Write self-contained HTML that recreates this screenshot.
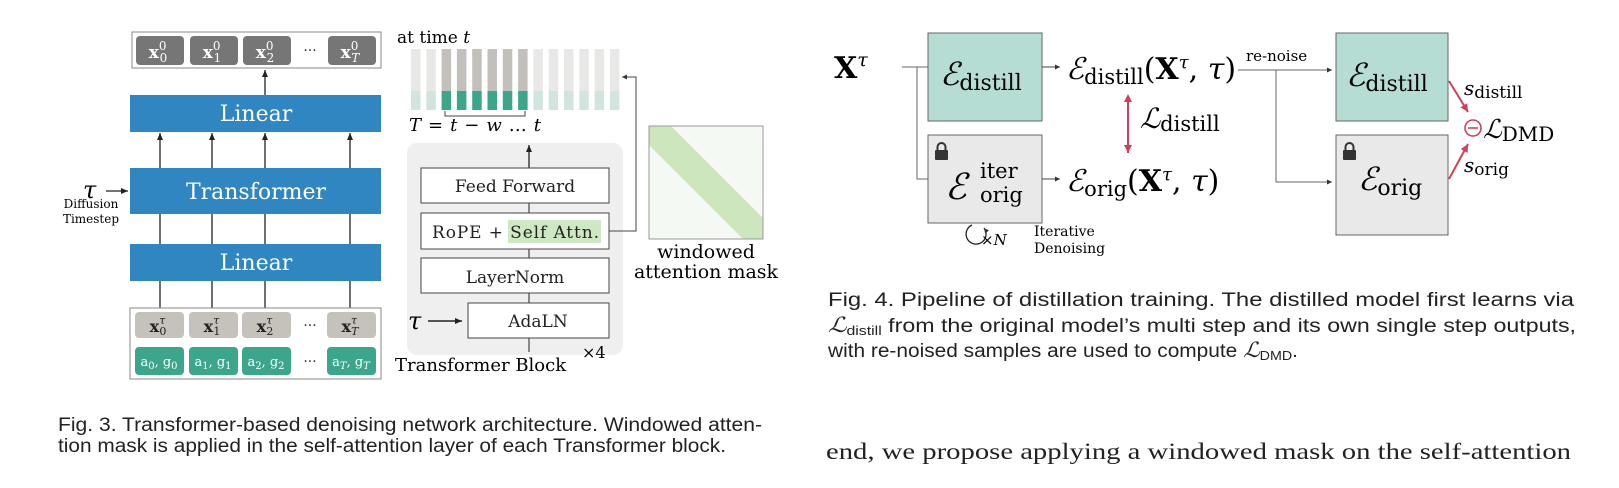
<!DOCTYPE html>
<html><head><meta charset="utf-8"><style>
html,body{margin:0;padding:0;background:#fff}
svg{display:block}
.s{font-family:"DejaVu Serif","Liberation Serif",serif}
.t{font-family:"Liberation Serif",serif}
.c{font-family:"Liberation Sans",sans-serif}
</style></head><body>
<svg width="1619" height="488" viewBox="0 0 1619 488" xmlns="http://www.w3.org/2000/svg">
<defs>
<marker id="ah" markerWidth="8" markerHeight="8" refX="7" refY="4" orient="auto" markerUnits="userSpaceOnUse"><path d="M0,1 L7,4 L0,7 Z" fill="#222"/></marker>
<marker id="ahs" markerWidth="6" markerHeight="6" refX="5" refY="3" orient="auto" markerUnits="userSpaceOnUse"><path d="M0,0.5 L5,3 L0,5.5 Z" fill="#333"/></marker>
<marker id="ar" markerWidth="10" markerHeight="10" refX="8" refY="5" orient="auto" markerUnits="userSpaceOnUse"><path d="M0,1 L8,5 L0,9 Z" fill="#d0405a"/></marker>
<marker id="ars" markerWidth="10" markerHeight="10" refX="2" refY="5" orient="auto" markerUnits="userSpaceOnUse"><path d="M8,1 L0,5 L8,9 Z" fill="#d0405a"/></marker>
</defs>

<!-- LEFT DIAGRAM -->
<rect x="132" y="32" width="249" height="36" fill="#fff" stroke="#888" stroke-width="1"/>
<g fill="#767676">
<rect x="136" y="36" width="48" height="29" rx="4"/>
<rect x="190" y="36" width="48" height="29" rx="4"/>
<rect x="243" y="36" width="48" height="29" rx="4"/>
<rect x="328" y="36" width="48" height="29" rx="4"/>
</g>
<g class="s" fill="#fff" font-size="17" font-weight="bold" text-anchor="middle">
<text x="158" y="58">x<tspan font-size="12" font-weight="normal" dy="-8">0</tspan><tspan font-size="12" font-weight="normal" dx="-7" dy="12">0</tspan></text>
<text x="212" y="58">x<tspan font-size="12" font-weight="normal" dy="-8">0</tspan><tspan font-size="12" font-weight="normal" dx="-7" dy="12">1</tspan></text>
<text x="265" y="58">x<tspan font-size="12" font-weight="normal" dy="-8">0</tspan><tspan font-size="12" font-weight="normal" dx="-7" dy="12">2</tspan></text>
<text x="350" y="58">x<tspan font-size="12" font-weight="normal" dy="-8">0</tspan><tspan font-size="12" font-weight="normal" font-style="italic" dx="-7" dy="12">T</tspan></text>
</g>
<text x="310" y="55" class="s" font-size="14" text-anchor="middle" fill="#333">···</text>

<g fill="#2f86c1">
<rect x="130" y="95" width="251" height="37"/>
<rect x="130" y="168" width="251" height="46"/>
<rect x="130" y="244" width="251" height="37"/>
</g>
<g class="s" fill="#fff" text-anchor="middle">
<text x="256" y="121" font-size="22">Linear</text>
<text x="256" y="199" font-size="22">Transformer</text>
<text x="256" y="270" font-size="22">Linear</text>
</g>
<g stroke="#222" stroke-width="1.3">
<line x1="265" y1="95" x2="265" y2="70" marker-end="url(#ah)"/>
<line x1="160" y1="168" x2="160" y2="133" marker-end="url(#ah)"/>
<line x1="212" y1="168" x2="212" y2="133" marker-end="url(#ah)"/>
<line x1="265" y1="168" x2="265" y2="133" marker-end="url(#ah)"/>
<line x1="350" y1="168" x2="350" y2="133" marker-end="url(#ah)"/>
<line x1="160" y1="244" x2="160" y2="214"/><line x1="212" y1="244" x2="212" y2="214"/><line x1="265" y1="244" x2="265" y2="214"/><line x1="350" y1="244" x2="350" y2="214"/>
<line x1="160" y1="308" x2="160" y2="281"/><line x1="212" y1="308" x2="212" y2="281"/><line x1="265" y1="308" x2="265" y2="281"/><line x1="350" y1="308" x2="350" y2="281"/>
<line x1="106" y1="191" x2="128" y2="191" marker-end="url(#ah)"/>
</g>
<text x="83" y="198" class="s" font-size="24" font-style="italic">τ</text>
<text x="91" y="208" class="s" font-size="12" text-anchor="middle">Diffusion</text>
<text x="91" y="223" class="s" font-size="12" text-anchor="middle">Timestep</text>

<rect x="130" y="308" width="251" height="71" fill="#fff" stroke="#888" stroke-width="1"/>
<g fill="#c5c1bb">
<rect x="135" y="312" width="49" height="26" rx="4"/>
<rect x="189" y="312" width="49" height="26" rx="4"/>
<rect x="242" y="312" width="49" height="26" rx="4"/>
<rect x="327" y="312" width="49" height="26" rx="4"/>
</g>
<g fill="#3ca68c">
<rect x="135" y="347" width="49" height="28" rx="4"/>
<rect x="189" y="347" width="49" height="28" rx="4"/>
<rect x="242" y="347" width="49" height="28" rx="4"/>
<rect x="327" y="347" width="49" height="28" rx="4"/>
</g>
<g class="s" fill="#222" font-size="16" font-weight="bold" text-anchor="middle">
<text x="158" y="332">x<tspan font-size="11" font-weight="normal" font-style="italic" dy="-8">τ</tspan><tspan font-size="11" font-weight="normal" dx="-6" dy="11">0</tspan></text>
<text x="212" y="332">x<tspan font-size="11" font-weight="normal" font-style="italic" dy="-8">τ</tspan><tspan font-size="11" font-weight="normal" dx="-6" dy="11">1</tspan></text>
<text x="265" y="332">x<tspan font-size="11" font-weight="normal" font-style="italic" dy="-8">τ</tspan><tspan font-size="11" font-weight="normal" dx="-6" dy="11">2</tspan></text>
<text x="350" y="332">x<tspan font-size="11" font-weight="normal" font-style="italic" dy="-8">τ</tspan><tspan font-size="11" font-weight="normal" font-style="italic" dx="-6" dy="11">T</tspan></text>
</g>
<g class="s" fill="#fff" font-size="13" text-anchor="middle">
<text x="159" y="366">a<tspan font-size="10" dy="3">0</tspan><tspan dy="-3">, g</tspan><tspan font-size="10" dy="3">0</tspan></text>
<text x="213" y="366">a<tspan font-size="10" dy="3">1</tspan><tspan dy="-3">, g</tspan><tspan font-size="10" dy="3">1</tspan></text>
<text x="266" y="366">a<tspan font-size="10" dy="3">2</tspan><tspan dy="-3">, g</tspan><tspan font-size="10" dy="3">2</tspan></text>
<text x="351" y="366">a<tspan font-size="10" dy="3" font-style="italic">T</tspan><tspan dy="-3">, g</tspan><tspan font-size="10" dy="3" font-style="italic">T</tspan></text>
</g>
<text x="310" y="330" class="s" font-size="14" text-anchor="middle" fill="#333">···</text>
<text x="310" y="366" class="s" font-size="14" text-anchor="middle" fill="#333">···</text>

<!-- MIDDLE -->
<text x="397" y="43" class="s" font-size="17">at time <tspan font-style="italic">t</tspan></text>
<g>
<rect x="411" y="49" width="9.5" height="42" fill="#e8e8e6"/><rect x="411" y="91" width="9.5" height="19" fill="#cfe5de"/>
<rect x="426.3" y="49" width="9.5" height="42" fill="#e8e8e6"/><rect x="426.3" y="91" width="9.5" height="19" fill="#cfe5de"/>
<rect x="441.6" y="49" width="9.5" height="42" fill="#c3bfba"/><rect x="441.6" y="91" width="9.5" height="19" fill="#3aa68a"/>
<rect x="456.9" y="49" width="9.5" height="42" fill="#c3bfba"/><rect x="456.9" y="91" width="9.5" height="19" fill="#3aa68a"/>
<rect x="472.2" y="49" width="9.5" height="42" fill="#c3bfba"/><rect x="472.2" y="91" width="9.5" height="19" fill="#3aa68a"/>
<rect x="487.5" y="49" width="9.5" height="42" fill="#c3bfba"/><rect x="487.5" y="91" width="9.5" height="19" fill="#3aa68a"/>
<rect x="502.8" y="49" width="9.5" height="42" fill="#c3bfba"/><rect x="502.8" y="91" width="9.5" height="19" fill="#3aa68a"/>
<rect x="518.1" y="49" width="9.5" height="42" fill="#c3bfba"/><rect x="518.1" y="91" width="9.5" height="19" fill="#3aa68a"/>
<rect x="533.4" y="49" width="9.5" height="42" fill="#e8e8e6"/><rect x="533.4" y="91" width="9.5" height="19" fill="#cfe5de"/>
<rect x="548.7" y="49" width="9.5" height="42" fill="#e8e8e6"/><rect x="548.7" y="91" width="9.5" height="19" fill="#cfe5de"/>
<rect x="564" y="49" width="9.5" height="42" fill="#e8e8e6"/><rect x="564" y="91" width="9.5" height="19" fill="#cfe5de"/>
<rect x="579.3" y="49" width="9.5" height="42" fill="#e8e8e6"/><rect x="579.3" y="91" width="9.5" height="19" fill="#cfe5de"/>
<rect x="594.6" y="49" width="9.5" height="42" fill="#e8e8e6"/><rect x="594.6" y="91" width="9.5" height="19" fill="#cfe5de"/>
<rect x="609.9" y="49" width="9.5" height="42" fill="#e8e8e6"/><rect x="609.9" y="91" width="9.5" height="19" fill="#cfe5de"/>
</g>
<path d="M445,111 V116 H525 V111" fill="none" stroke="#444" stroke-width="1"/>
<text x="409" y="131" class="s" font-size="18" font-style="italic" textLength="132">T <tspan font-style="normal">=</tspan> t <tspan font-style="normal">−</tspan> w <tspan font-style="normal">…</tspan> t</text>

<rect x="407" y="143" width="216" height="212" rx="10" fill="#efefef"/>
<line x1="529" y1="168" x2="529" y2="145" stroke="#222" stroke-width="1.3" marker-end="url(#ah)"/>
<line x1="529" y1="203" x2="529" y2="213" stroke="#222"/><line x1="529" y1="249" x2="529" y2="258" stroke="#222"/><line x1="529" y1="293" x2="529" y2="303" stroke="#222"/><line x1="529" y1="338" x2="529" y2="352" stroke="#222"/>
<g fill="#fff" stroke="#444" stroke-width="1">
<rect x="421" y="168" width="188" height="35"/>
<rect x="421" y="213" width="188" height="36"/>
<rect x="421" y="258" width="188" height="35"/>
<rect x="468" y="303" width="141" height="35"/>
</g>
<rect x="508" y="220" width="93" height="23" fill="#cfe8c4"/>
<g class="s" font-size="17" fill="#222">
<text x="515" y="192" text-anchor="middle">Feed Forward</text>
<text x="432" y="238" textLength="167">RoPE + Self Attn.</text>
<text x="515" y="283" text-anchor="middle">LayerNorm</text>
<text x="538" y="327" text-anchor="middle">AdaLN</text>
</g>
<text x="408" y="329" class="s" font-size="24" font-style="italic">τ</text>
<line x1="428" y1="321" x2="462" y2="321" stroke="#222" stroke-width="1.5" marker-end="url(#ah)"/>
<text x="395" y="371" class="s" font-size="18">Transformer Block</text>
<text x="582" y="358" class="s" font-size="16">×4</text>
<polyline points="609,231 636,231 636,77 622,77" fill="none" stroke="#444" stroke-width="1" marker-end="url(#ahs)"/>

<rect x="649" y="126" width="114" height="113" fill="#f5f9f3" stroke="#999" stroke-width="1"/>
<polygon points="649,126 671,126 763,218 763,239 743,239 649,145" fill="#cde6bd"/>
<rect x="649" y="126" width="114" height="113" fill="none" stroke="#999" stroke-width="1"/>
<text x="706" y="258" class="s" font-size="19" text-anchor="middle">windowed</text>
<text x="706" y="278" class="s" font-size="19" text-anchor="middle">attention mask</text>

<text x="58" y="431" class="c" font-size="19" fill="#222" textLength="704" lengthAdjust="spacingAndGlyphs">Fig. 3.  Transformer-based denoising network architecture. Windowed atten-</text>
<text x="58" y="452" class="c" font-size="19" fill="#222" textLength="668" lengthAdjust="spacingAndGlyphs">tion mask is applied in the self-attention layer of each Transformer block.</text>

<!-- RIGHT DIAGRAM -->
<text x="834" y="78" class="s" font-size="30" font-weight="bold">X<tspan font-size="19" font-weight="normal" font-style="italic" dy="-12">τ</tspan></text>
<polyline points="902,67 928,67" stroke="#666" fill="none"/>
<polyline points="917,67 917,179 928,179" stroke="#666" fill="none"/>
<rect x="928" y="33" width="114" height="88" fill="#b5ddd3" stroke="#666" stroke-width="1"/>
<rect x="928" y="135" width="114" height="88" fill="#e9e9e9" stroke="#666" stroke-width="1"/>
<text x="940" y="85" class="s" font-size="32" font-style="italic">ℰ<tspan font-size="22" font-style="normal" dy="5">distill</tspan></text>
<text x="945" y="199" class="s" font-size="36" font-style="italic">ℰ</text>
<text x="980" y="178" class="s" font-size="21">iter</text>
<text x="980" y="202" class="s" font-size="21">orig</text>
<g fill="#333"><rect x="935" y="150" width="13" height="10" rx="1"/><path d="M937.5,150 v-3 a4,4 0 0 1 8,0 v3" fill="none" stroke="#333" stroke-width="2"/></g>
<line x1="1042" y1="67" x2="1060" y2="67" stroke="#444" marker-end="url(#ahs)"/>
<line x1="1042" y1="179" x2="1060" y2="179" stroke="#444" marker-end="url(#ahs)"/>
<text x="1066" y="79" class="s" font-size="30"><tspan font-style="italic">ℰ</tspan><tspan font-size="21" dy="5">distill</tspan><tspan dy="-5">(</tspan><tspan font-weight="bold">X</tspan><tspan font-size="18" font-style="italic" dy="-11">τ</tspan><tspan dy="11">, </tspan><tspan font-style="italic">τ</tspan>)</text>
<text x="1066" y="191" class="s" font-size="30"><tspan font-style="italic">ℰ</tspan><tspan font-size="21" dy="5">orig</tspan><tspan dy="-5">(</tspan><tspan font-weight="bold">X</tspan><tspan font-size="18" font-style="italic" dy="-11">τ</tspan><tspan dy="11">, </tspan><tspan font-style="italic">τ</tspan>)</text>
<line x1="1128" y1="96" x2="1128" y2="153" stroke="#d0405a" stroke-width="2" marker-end="url(#ar)" marker-start="url(#ars)"/>
<text x="1140" y="128" class="s" font-size="28" font-style="italic">ℒ<tspan font-size="21" font-style="normal" dy="3">distill</tspan></text>
<path d="M972,225 a10,10 0 1 0 12,3" fill="none" stroke="#222" stroke-width="1.3" marker-end="url(#ahs)"/>
<text x="981" y="245" class="s" font-size="15">×<tspan font-style="italic">N</tspan></text>
<text x="1034" y="236" class="s" font-size="14">Iterative</text>
<text x="1034" y="253" class="s" font-size="14">Denoising</text>

<line x1="1238" y1="70" x2="1332" y2="70" stroke="#666" marker-end="url(#ahs)"/>
<polyline points="1276,70 1276,182 1332,182" stroke="#666" fill="none" marker-end="url(#ahs)"/>
<text x="1246" y="61" class="s" font-size="15">re-noise</text>
<rect x="1336" y="33" width="112" height="88" fill="#b5ddd3" stroke="#666" stroke-width="1"/>
<rect x="1336" y="135" width="112" height="100" fill="#e9e9e9" stroke="#666" stroke-width="1"/>
<text x="1346" y="86" class="s" font-size="32" font-style="italic">ℰ<tspan font-size="22" font-style="normal" dy="5">distill</tspan></text>
<text x="1358" y="190" class="s" font-size="32" font-style="italic">ℰ<tspan font-size="22" font-style="normal" dy="5">orig</tspan></text>
<g fill="#333"><rect x="1343" y="150" width="13" height="10" rx="1"/><path d="M1345.5,150 v-3 a4,4 0 0 1 8,0 v3" fill="none" stroke="#333" stroke-width="2"/></g>
<line x1="1449" y1="81" x2="1468" y2="112" stroke="#d0405a" stroke-width="2" marker-end="url(#ar)"/>
<line x1="1449" y1="179" x2="1468" y2="144" stroke="#d0405a" stroke-width="2" marker-end="url(#ar)"/>
<circle cx="1473" cy="128" r="8" fill="none" stroke="#d0405a" stroke-width="1.6"/>
<line x1="1468" y1="128" x2="1478" y2="128" stroke="#d0405a" stroke-width="1.6"/>
<text x="1483" y="138" class="s" font-size="26" font-style="italic">ℒ<tspan font-size="20" font-style="normal" dy="3">DMD</tspan></text>
<text x="1464" y="95" class="s" font-size="20" font-style="italic">s<tspan font-size="17" font-style="normal" dy="3">distill</tspan></text>
<text x="1464" y="172" class="s" font-size="20" font-style="italic">s<tspan font-size="17" font-style="normal" dy="3">orig</tspan></text>

<text x="828" y="306" class="c" font-size="19" fill="#222" textLength="746" lengthAdjust="spacingAndGlyphs">Fig. 4.  Pipeline of distillation training. The distilled model first learns via</text>
<text x="828" y="332" class="c" font-size="19" fill="#222" textLength="748" lengthAdjust="spacingAndGlyphs"><tspan class="t" font-style="italic" font-size="21">ℒ</tspan><tspan font-size="13" dy="3">distill</tspan><tspan dy="-3"> from the original model’s multi step and its own single step outputs,</tspan></text>
<text x="828" y="357" class="c" font-size="19" fill="#222" textLength="470" lengthAdjust="spacingAndGlyphs">with re-noised samples are used to compute <tspan class="t" font-style="italic" font-size="21">ℒ</tspan><tspan font-size="13" dy="3">DMD</tspan><tspan dy="-3">.</tspan></text>

<text x="826" y="459" class="t" font-size="23" fill="#222" textLength="745" lengthAdjust="spacingAndGlyphs">end, we propose applying a windowed mask on the self-attention</text>
</svg>
</body></html>
